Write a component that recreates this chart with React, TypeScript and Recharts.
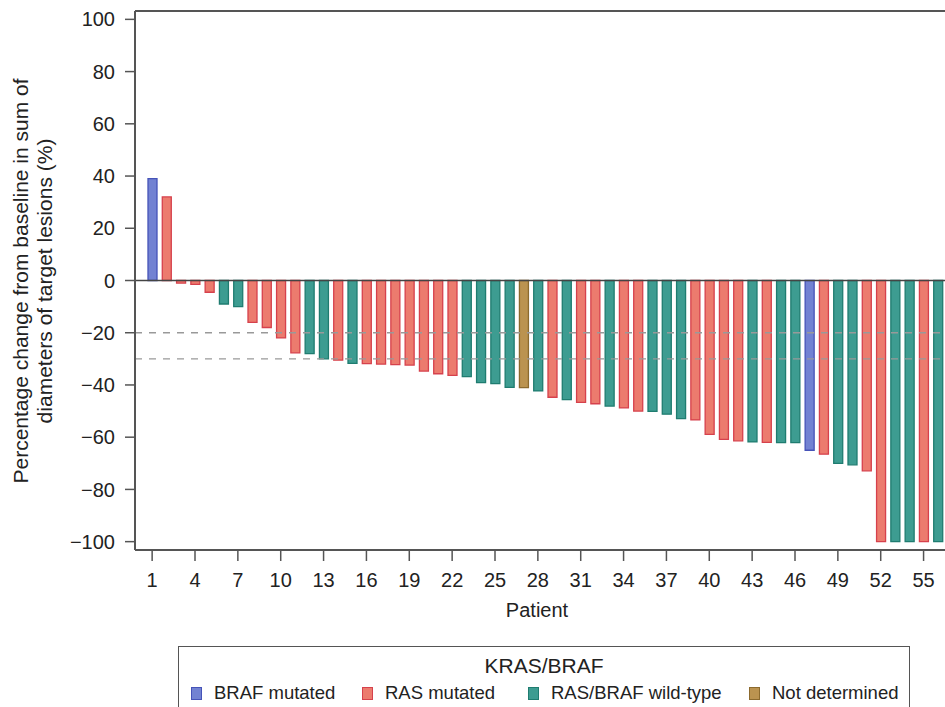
import React from "react";
import { BarChart, Bar, XAxis, YAxis, ReferenceLine, Cell, Label } from "recharts";

const patients = [
  1, 2, 3, 4, 5, 6, 7, 8, 9, 10, 11, 12, 13, 14, 15, 16, 17, 18, 19, 20,
  21, 22, 23, 24, 25, 26, 27, 28, 29, 30, 31, 32, 33, 34, 35, 36, 37, 38, 39, 40,
  41, 42, 43, 44, 45, 46, 47, 48, 49, 50, 51, 52, 53, 54, 55, 56,
];

const changes = [
  39, 32, -1, -1.5, -4.5, -9, -10, -16, -18, -22, -27.7, -28, -30, -30.5, -31.7, -31.8, -32, -32.2, -32.4, -34.7,
  -35.7, -36.3, -36.8, -39.1, -39.5, -40.9, -41, -42.3, -44.7, -45.6, -46.7, -47.2, -48.1, -48.8, -50, -50.1, -51.2, -52.9, -53.4, -58.9,
  -60.8, -61.4, -61.8, -62, -62.1, -62.1, -65, -66.5, -70, -70.6, -72.9, -100, -100, -100, -100, -100,
];

// B = BRAF mutated, R = RAS mutated, W = RAS/BRAF wild-type, N = not determined
const status = [
  "B", "R", "R", "R", "R", "W", "W", "R", "R", "R", "R", "W", "W", "R", "W", "R", "R", "R", "R", "R",
  "R", "R", "W", "W", "W", "W", "N", "W", "R", "W", "R", "R", "W", "R", "R", "W", "W", "W", "R", "R",
  "R", "R", "W", "R", "W", "W", "B", "R", "W", "W", "R", "R", "W", "W", "R", "W",
];

const yTicks = [-100, -80, -60, -40, -20, 0, 20, 40, 60, 80, 100];
const thresholds = [-20, -30];

const statusKeys = ["B", "R", "W", "N"];
const statusLabels = ["BRAF mutated", "RAS mutated", "RAS/BRAF wild-type", "Not determined"];
const fills: Record<string, string> = { B: "#7282d2", R: "#ec7b6e", W: "#3d9c91", N: "#bb9350" };
const edges: Record<string, string> = { B: "#4653b8", R: "#d6414c", W: "#1f7c70", N: "#8c6a2e" };

const data = patients.map((p, i) => ({ patient: p, value: changes[i], status: status[i] }));

const font = "'Liberation Sans', Arial, sans-serif";
const axisColor = "#555";
const yMax = 103.2;

const fmt = (v: number) => (v < 0 ? "\u2212" + Math.abs(v) : String(v));

const legendLeft = [12, 183, 349, 570];

const App: React.FC = () => {
  return (
    <div style={{ position: "absolute", left: 0, top: 0, width: 945, height: 707, overflow: "hidden", background: "#fff", fontFamily: font }}>
      <BarChart width={975} height={707} data={data} margin={{ top: 11, right: 20, bottom: 87, left: 0 }}>
        <XAxis
          dataKey="patient"
          interval={2}
          padding={{ left: 10, right: 10 }}
          height={70}
          tickSize={11}
          tickMargin={12}
          tick={{ fontSize: 20, fill: "#222", fontFamily: font }}
          stroke={axisColor}
          axisLine={{ stroke: axisColor, strokeWidth: 2 }}
          tickLine={{ stroke: axisColor, strokeWidth: 1.5 }}
        >
          <Label
            content={() => (
              <text x={537} y={617} textAnchor="middle" fontSize={20} fill="#222" fontFamily={font}>
                Patient
              </text>
            )}
          />
        </XAxis>
        <YAxis
          width={135}
          domain={[-yMax, yMax]}
          ticks={yTicks}
          tickFormatter={fmt}
          tickSize={10}
          tickMargin={10}
          tick={{ fontSize: 20, fill: "#222", fontFamily: font }}
          axisLine={{ stroke: axisColor, strokeWidth: 2 }}
          tickLine={{ stroke: axisColor, strokeWidth: 1.5 }}
        >
          <Label
            content={() => (
              <g fontSize={21} fill="#222" fontFamily={font}>
                <text x={28} y={281} transform="rotate(-90 28 281)" textAnchor="middle">
                  Percentage change from baseline in sum of
                </text>
                <text x={52} y={281} transform="rotate(-90 52 281)" textAnchor="middle">
                  diameters of target lesions (%)
                </text>
              </g>
            )}
          />
        </YAxis>
        {thresholds.map((t) => (
          <ReferenceLine key={t} y={t} stroke="#999" strokeWidth={1.3} strokeDasharray="7 7" />
        ))}
        <Bar dataKey="value" barSize={9} isAnimationActive={false}>
          {data.map((d) => (
            <Cell key={d.patient} fill={fills[d.status]} stroke={edges[d.status]} strokeWidth={1.3} />
          ))}
        </Bar>
        <ReferenceLine y={0} stroke="#444" strokeWidth={1.5} />
        <ReferenceLine y={yMax} stroke={axisColor} strokeWidth={2} />
      </BarChart>
      <div
        style={{
          position: "absolute",
          left: 178,
          top: 646,
          width: 732,
          height: 80,
          border: "1.5px solid #555",
          boxSizing: "border-box",
          color: "#222",
        }}
      >
        <div style={{ position: "absolute", left: 0, right: 0, top: 7, textAlign: "center", fontSize: 21 }}>KRAS/BRAF</div>
        {statusKeys.map((k, i) => (
          <div key={k} style={{ position: "absolute", left: legendLeft[i], top: 35, display: "flex", alignItems: "center", fontSize: 18.5, whiteSpace: "nowrap" }}>
            <span
              style={{
                display: "inline-block",
                width: 9,
                height: 11,
                background: fills[k],
                border: `1.5px solid ${edges[k]}`,
                marginRight: 12,
              }}
            />
            {statusLabels[i]}
          </div>
        ))}
      </div>
    </div>
  );
};

export default App;
